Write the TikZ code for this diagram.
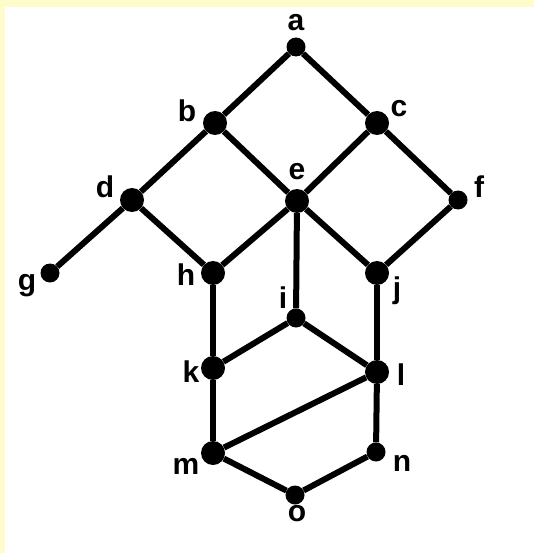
\documentclass[tikz,border=0pt]{standalone}
\usepackage{fontspec}
\setmainfont{Liberation Sans}
\begin{document}
\begin{tikzpicture}[x=1pt,y=-1pt,
  vbig/.style={circle,fill=black,inner sep=0pt,minimum size=24pt},
  vsmall/.style={circle,fill=black,inner sep=0pt,minimum size=19pt},
  lbl/.style={font=\bfseries\fontsize{30}{30}\selectfont,inner sep=0pt,text=black},
  edge/.style={line width=6pt}]
\useasboundingbox (0,0) rectangle (534,553);
\fill[yellow!20] (0,0) rectangle (534,553);
\fill[white] (5,7) rectangle (534,553);
% vertices
\node[vsmall] (a) at (296,47) {};
\node[vbig] (b) at (215,123) {};
\node[vbig] (c) at (377,123) {};
\node[vbig] (d) at (132,200) {};
\node[vbig] (e) at (297,201) {};
\node[vsmall] (f) at (458,200) {};
\node[vsmall] (g) at (50,273) {};
\node[vbig] (h) at (213,273) {};
\node[vsmall] (i) at (296,318) {};
\node[vbig] (j) at (377,273) {};
\node[vbig] (k) at (213,368) {};
\node[vbig] (l) at (377,372) {};
\node[vbig] (m) at (213,453) {};
\node[vsmall] (n) at (376,452) {};
\node[vsmall] (o) at (295,495) {};
% labels
\node[lbl] (la) at (296,23) {a};
\node[lbl] (lb) at (187,111) {b};
\node[lbl] (lc) at (399,109) {c};
\node[lbl] (ld) at (105,187) {d};
\node[lbl] (le) at (297,172) {e};
\node[lbl] (lf) at (479,187) {f};
\node[lbl] (lg) at (27,286) {g};
\node[lbl] (lh) at (186,275) {h};
\node[lbl] (li) at (283,298) {i};
\node[lbl] (lj) at (397,291) {j};
\node[lbl] (lk) at (191,372) {k};
\node[lbl] (ll) at (401,375) {l};
\node[lbl] (lm) at (186,466) {m};
\node[lbl] (ln) at (402,463) {n};
\node[lbl] (lo) at (297,514) {o};
% edges
\begin{scope}[edge]
\draw (a) -- (b); \draw (a) -- (c);
\draw (b) -- (d); \draw (b) -- (e);
\draw (c) -- (e); \draw (c) -- (f);
\draw (d) -- (g); \draw (d) -- (h);
\draw (e) -- (h); \draw (e) -- (i); \draw (e) -- (j);
\draw (f) -- (j);
\draw (h) -- (k); \draw (j) -- (l);
\draw (i) -- (k); \draw (i) -- (l);
\draw (k) -- (m); \draw (l) -- (m); \draw (l) -- (n);
\draw (m) -- (o); \draw (n) -- (o);
\end{scope}
\end{tikzpicture}
\end{document}
